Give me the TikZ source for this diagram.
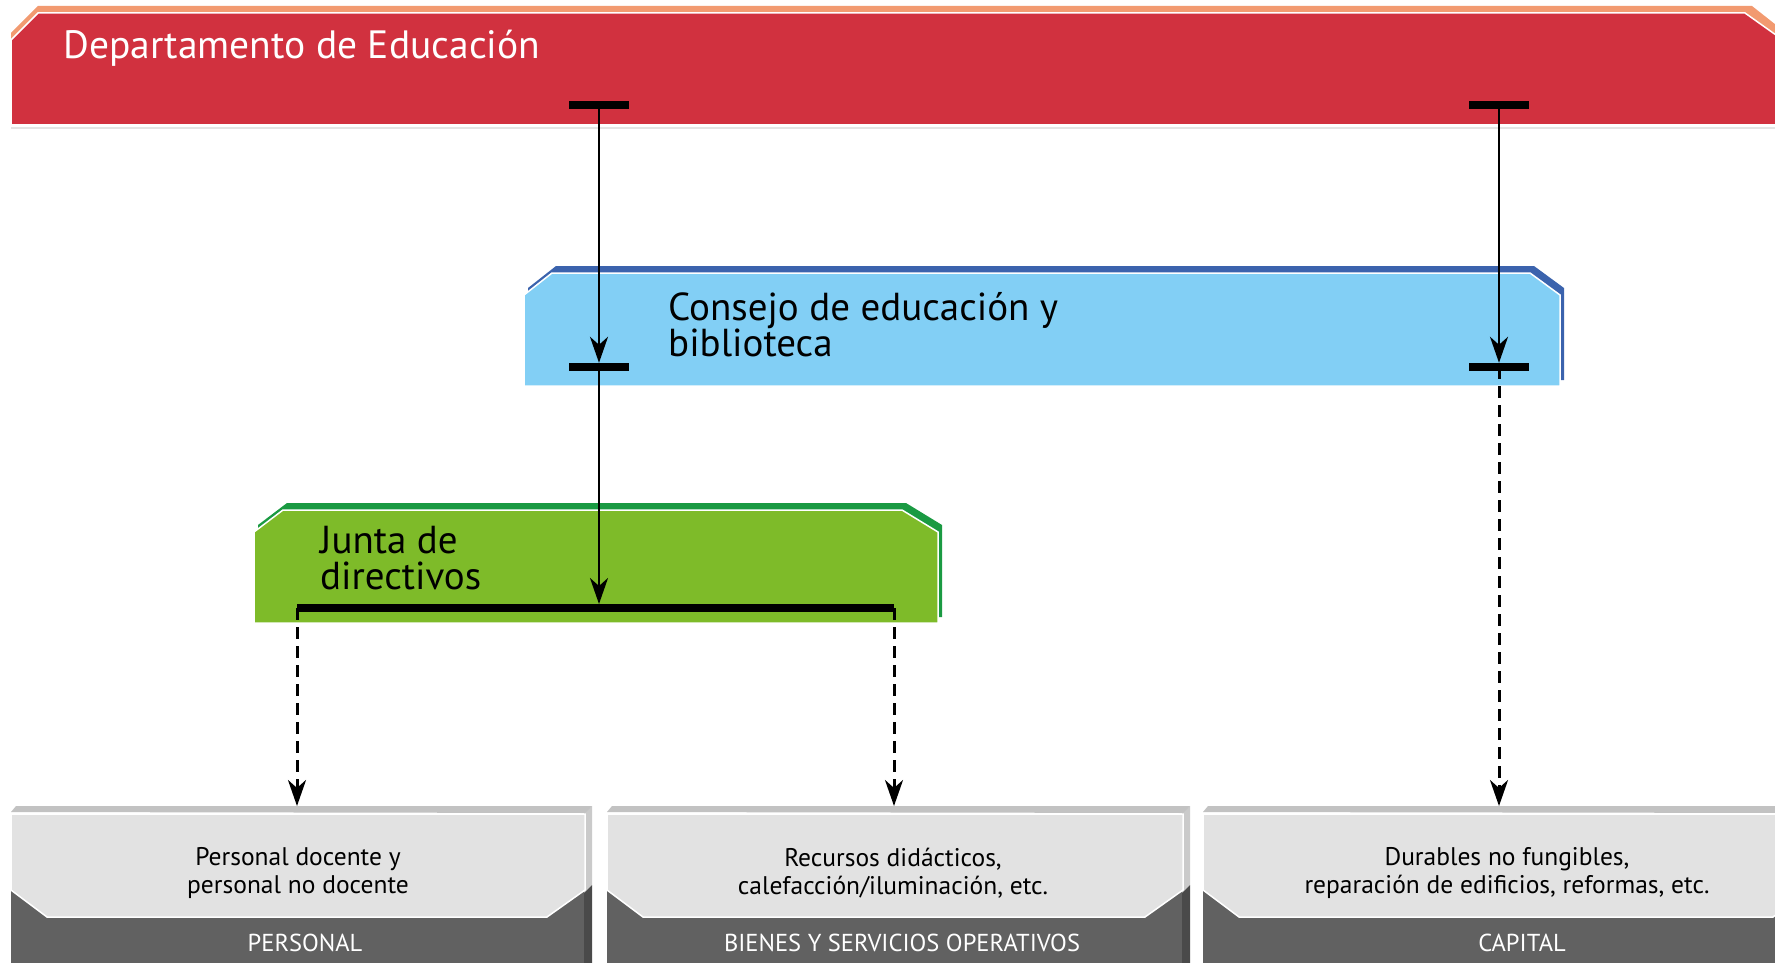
\documentclass[tikz,border=0pt]{standalone}
\usepackage{fontspec}
\setmainfont{PT Sans}
\usetikzlibrary{arrows.meta}
\definecolor{deptred}{HTML}{D1313F}
\definecolor{deptedge}{HTML}{F29A70}
\definecolor{consfill}{HTML}{82CFF5}
\definecolor{consedge}{HTML}{3B63AD}
\definecolor{juntafill}{HTML}{7EBB29}
\definecolor{juntaedge}{HTML}{1A9A42}
\definecolor{boxlight}{HTML}{E2E2E2}
\definecolor{boxdark}{HTML}{616161}
\definecolor{boxtop}{HTML}{C2C2C2}
\definecolor{sideup}{HTML}{CACACA}
\definecolor{sidedn}{HTML}{4A4A4A}
\definecolor{shadegray}{HTML}{E4E4E4}

\begin{document}
\begin{tikzpicture}[x=1pt, y=-1pt,
  tbar/.style = {fill=black, inner sep=0pt, minimum width=60pt, minimum height=8pt},
  solidarr/.style = {line width=2.5pt, -{Stealth[length=26pt, width=18pt, inset=8pt]}},
  dasharr/.style = {line width=3pt, dash pattern=on 12pt off 7pt, -{Stealth[length=26pt, width=18pt, inset=8pt]}},
  bigtext/.style = {inner sep=0pt, align=left, font=\fontsize{39}{36}\selectfont},
  boxtext/.style = {align=center, font=\fontsize{25.5}{28}\selectfont},
  boxlabel/.style = {text=white, font=\fontsize{24.5}{26}\selectfont}]
\useasboundingbox (0,0) rectangle (1775,963);

\fill[deptedge] (11,33) -- (38,6) -- (1752,6) -- (1790,36) -- (1790,118) -- (11,118) -- cycle;
\filldraw[fill=deptred, draw=white, line width=1.5pt] (11,40) -- (38,13) -- (1745,13) -- (1790,45) -- (1790,125) -- (11,125) -- cycle;
\draw[shadegray, line width=2pt] (11,128) -- (1775,128);

\fill[consedge] (528,288) -- (556,266) -- (1534,266) -- (1564,288) -- (1564,380) -- (528,380) -- cycle;
\filldraw[fill=consfill, draw=white, line width=1.5pt] (524,295) -- (552,273) -- (1530,273) -- (1560,295) -- (1560,386) -- (524,386) -- cycle;

\fill[juntaedge] (258,525) -- (287,503) -- (906,503) -- (942,525) -- (942,617) -- (258,617) -- cycle;
\filldraw[fill=juntafill, draw=white, line width=1.5pt] (254,532) -- (283,510) -- (902,510) -- (938,532) -- (938,623) -- (254,623) -- cycle;

\foreach \l/\r in {11/585, 607/1183, 1203/1811} {
  \fill[boxdark] (\l,885) rectangle (\r,963);
  \fill[sideup] (\r-1,813) -- (\r+7,806) -- (\r+7,885) -- (\r-1,893) -- cycle;
  \fill[sidedn] (\r-1,893) -- (\r+7,885) -- (\r+7,963) -- (\r-1,963) -- cycle;
  \fill[boxtop] (\l,812) -- (\l+5,806) -- (\r+7,806) -- (\r,813) -- cycle;
  \filldraw[fill=boxlight, draw=white, line width=1.5pt] (\l,814) -- (\r,814) -- (\r,890) -- (\r-38,917) -- (\l+36,917) -- (\l,890) -- cycle;
}

\node[anchor=base west, inner sep=0pt, text=white, font=\fontsize{39.5}{40}\selectfont] (dept) at (63,59) {Departamento de Educación};
\node[bigtext, anchor=south west] (consejo) at (668,357) {Consejo de educación y\\biblioteca};
\node[bigtext, anchor=south west] (junta) at (320,590) {Junta de\\directivos};

\node[boxtext] (personal) at (298,873) {Personal docente y\\personal no docente};
\node[boxtext] (bienes) at (893,873) {Recursos didácticos,\\calefacción/iluminación, etc.};
\node[boxtext] (capital) at (1507,873) {Durables no fungibles,\\reparación de edificios, reformas, etc.};
\node[boxlabel] (personalL) at (305,943) {PERSONAL};
\node[boxlabel] (bienesL) at (902,943) {BIENES Y SERVICIOS OPERATIVOS};
\node[boxlabel] (capitalL) at (1522,943) {CAPITAL};

\node[tbar] (deptL) at (599,105) {};
\node[tbar] (deptR) at (1499,105) {};
\node[tbar] (consL) at (599,367) {};
\node[tbar] (consR) at (1499,367) {};
\coordinate (juntaL) at (297,608);
\coordinate (juntaR) at (894,608);
\coordinate (juntaC) at (599,604);
\draw[line width=8pt] (juntaL) -- (juntaR);
\coordinate (inP) at (297,806);
\coordinate (inB) at (894,806);
\coordinate (inC) at (1499,806);

\draw[solidarr] (deptL.center) -- (consL.north);
\draw[solidarr] (deptR.center) -- (consR.north);
\draw[solidarr] (consL.center) -- (juntaC);
\draw[dasharr] (consR.center) -- (inC);
\draw[dasharr] (juntaL) -- (inP);
\draw[dasharr] (juntaR) -- (inB);
\end{tikzpicture}
\end{document}
